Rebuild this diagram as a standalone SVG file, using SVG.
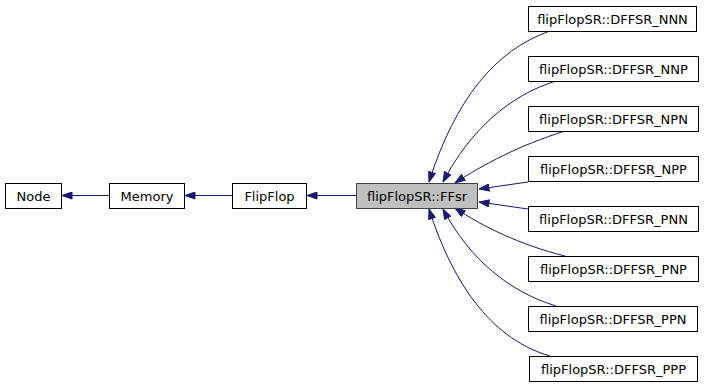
<svg xmlns="http://www.w3.org/2000/svg" width="707" height="392" viewBox="0 0 707 392">
  <style>
    .box { fill: #ffffff; stroke: #000000; stroke-width: 1; }
    .focus { fill: #bfbfbf; stroke: #404040; stroke-width: 1; }
    .lbl { font-family: "DejaVu Sans", sans-serif; font-size: 13px; text-anchor: middle; fill: #000000; }
    .edge { fill: none; stroke: #191970; stroke-width: 1; marker-end: url(#arrow); }
  </style>
  <defs>
    <marker id="arrow" viewBox="0 0 11 8" refX="10.5" refY="4" markerWidth="11" markerHeight="8" markerUnits="userSpaceOnUse" orient="auto">
      <path d="M0.5,0.5 L10.5,4 L0.5,7.5 Z" fill="#191970" stroke="#191970" stroke-width="1"/>
    </marker>
  </defs>

  <!-- inheritance connectors -->
  <g id="edges">
    <path class="edge" d="M109,195.5 L62,195.5"/>
    <path class="edge" d="M232,195.5 L185,195.5"/>
    <path class="edge" d="M356,195.5 L307,195.5"/>
    <path class="edge" d="M550,31 C495,50 455,100 429,182"/>
    <path class="edge" d="M556,81 C510,95 470,130 443,182"/>
    <path class="edge" d="M565,131 C520,145 482,165 455,183"/>
    <path class="edge" d="M528,182 L479,189"/>
    <path class="edge" d="M528,209 L479,202"/>
    <path class="edge" d="M565,256 C520,245 482,226 455,208"/>
    <path class="edge" d="M556,306 C510,292 470,260 443,209"/>
    <path class="edge" d="M550,356 C495,340 455,290 429,209"/>
  </g>

  <g id="node-Node">
    <rect class="box" x="5.5" y="183.5" width="56" height="25"/>
    <text class="lbl" x="33.5" y="200.5">Node</text>
  </g>
  <g id="node-Memory">
    <rect class="box" x="109.5" y="183.5" width="75" height="25"/>
    <text class="lbl" x="147" y="200.5">Memory</text>
  </g>
  <g id="node-FlipFlop">
    <rect class="box" x="232.5" y="183.5" width="74" height="25"/>
    <text class="lbl" x="269.5" y="200.5">FlipFlop</text>
  </g>
  <g id="node-FFsr">
    <rect class="focus" x="356.5" y="183.5" width="121" height="25"/>
    <text class="lbl" x="417" y="200.5">flipFlopSR::FFsr</text>
  </g>

  <g id="node-DFFSR_NNN">
    <rect class="box" x="528.5" y="6.5" width="168" height="25"/>
    <text class="lbl" x="612.5" y="23.5">flipFlopSR::DFFSR_NNN</text>
  </g>
  <g id="node-DFFSR_NNP">
    <rect class="box" x="528.5" y="56.5" width="170" height="25"/>
    <text class="lbl" x="613.5" y="73.5">flipFlopSR::DFFSR_NNP</text>
  </g>
  <g id="node-DFFSR_NPN">
    <rect class="box" x="528.5" y="106.5" width="170" height="25"/>
    <text class="lbl" x="613.5" y="123.5">flipFlopSR::DFFSR_NPN</text>
  </g>
  <g id="node-DFFSR_NPP">
    <rect class="box" x="528.5" y="156.5" width="170" height="25"/>
    <text class="lbl" x="613.5" y="173.5">flipFlopSR::DFFSR_NPP</text>
  </g>
  <g id="node-DFFSR_PNN">
    <rect class="box" x="528.5" y="206.5" width="170" height="25"/>
    <text class="lbl" x="613.5" y="223.5">flipFlopSR::DFFSR_PNN</text>
  </g>
  <g id="node-DFFSR_PNP">
    <rect class="box" x="528.5" y="256.5" width="170" height="25"/>
    <text class="lbl" x="613.5" y="273.5">flipFlopSR::DFFSR_PNP</text>
  </g>
  <g id="node-DFFSR_PPN">
    <rect class="box" x="528.5" y="306.5" width="169" height="25"/>
    <text class="lbl" x="613" y="323.5">flipFlopSR::DFFSR_PPN</text>
  </g>
  <g id="node-DFFSR_PPP">
    <rect class="box" x="529.5" y="356.5" width="168" height="25"/>
    <text class="lbl" x="613.5" y="373.5">flipFlopSR::DFFSR_PPP</text>
  </g>
</svg>
